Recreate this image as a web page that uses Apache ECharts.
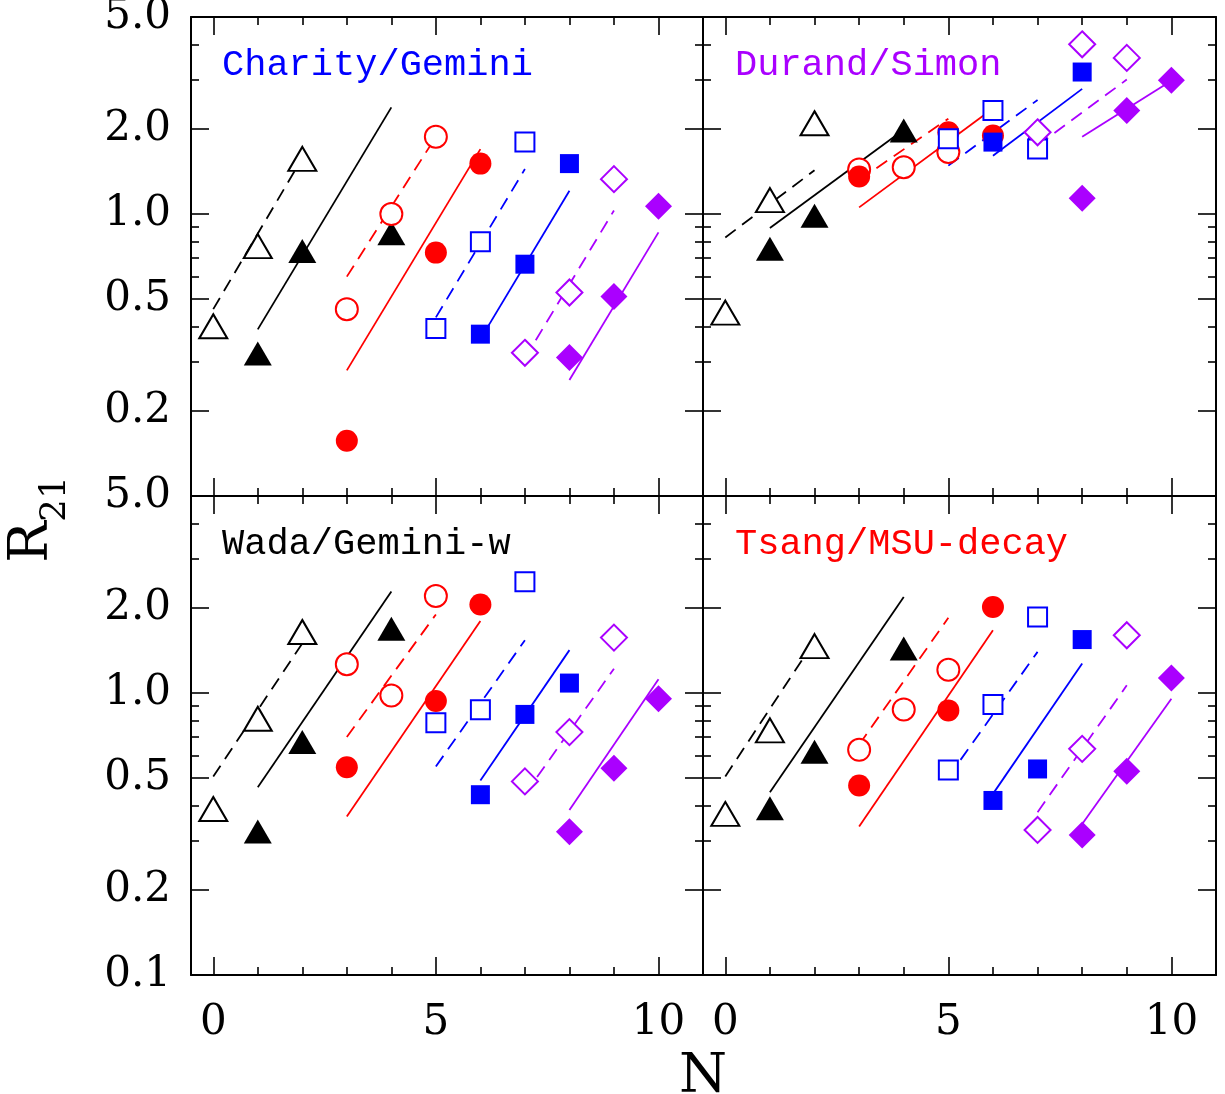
<!DOCTYPE html>
<html><head><meta charset="utf-8">
<script src="https://cdn.jsdelivr.net/npm/echarts@6/dist/echarts.min.js"></script>
<style>html,body{margin:0;padding:0;background:#fff}#c{width:1225px;height:1094px}</style>
</head><body><div id="c"></div>
<script>
// N values of each group (same in all panels)
const nBlackOpen    = [0, 1, 2];
const nBlackFilled  = [1, 2, 4];
const nRedOpen      = [3, 4, 5];
const nRedFilled    = [3, 5, 6];
const nBlueOpen     = [5, 6, 7];
const nBlueFilled   = [6, 7, 8];
const nPurpleOpen   = [7, 8, 9];
const nPurpleFilled = [8, 9, 10];

// R21 values, rows: blackOpen, blackFilled, redOpen, redFilled, blueOpen, blueFilled, purpleOpen, purpleFilled
const charityR21 = [[0.40,0.77,1.57],[0.32,0.74,0.855],[0.46,1.0,1.88],[0.157,0.73,1.51],[0.393,0.797,1.80],[0.375,0.664,1.51],[0.322,0.527,1.33],[0.31,0.51,1.065]];
const durandR21  = [[0.447,1.12,2.10],[0.753,0.986,1.98],[1.44,1.466,1.66],[1.36,1.95,1.90],[1.85,2.33,1.70],[1.80,1.76,3.19],[1.95,4.0,3.58],[1.137,2.33,2.98]];
const wadaR21    = [[0.388,0.811,1.647],[0.323,0.67,1.69],[1.265,0.98,2.21],[0.546,0.937,2.06],[0.785,0.873,2.48],[0.436,0.84,1.085],[0.486,0.727,1.573],[0.3225,0.541,0.955]];
const tsangR21   = [[0.3726,0.737,1.467],[0.39,0.619,1.438],[0.629,0.875,1.21],[0.47,0.868,2.02],[0.534,0.91,1.862],[0.416,0.538,1.548],[0.327,0.634,1.603],[0.314,0.528,1.13]];

// fit lines: R21 at first and last N of each group
const charityFit = [[0.46,1.58],[0.39,2.39],[0.60,1.88],[0.279,1.70],[0.43,1.445],[0.36,1.21],[0.308,1.03],[0.258,0.861]];
const durandFit  = [[0.826,1.43],[0.892,1.99],[1.32,2.18],[1.056,2.37],[1.485,2.54],[1.61,2.78],[1.75,3.0],[1.88,2.97]];
const wadaFit    = [[0.506,1.50],[0.463,2.29],[0.698,1.90],[0.365,1.80],[0.549,1.54],[0.49,1.42],[0.438,1.22],[0.385,1.12]];
const tsangFit   = [[0.506,1.53],[0.445,2.19],[0.656,1.85],[0.336,1.67],[0.504,1.40],[0.439,1.272],[0.378,1.065],[0.343,0.955]];

const panelTitles = ['Charity/Gemini', 'Durand/Simon', 'Wada/Gemini-w', 'Tsang/MSU-decay'];
const xMajorTicks = [0, 5, 10];
const xMinorTicks = [1, 2, 3, 4, 6, 7, 8, 9];
const yMajorTicks = [0.2, 0.5, 1, 2];
const yMinorTicks = [0.3, 0.4, 0.6, 0.7, 0.8, 0.9, 3, 4];
const yLabelsTop = [0.2, 0.5, 1, 2, 5];
const yLabelsBottom = [0.1, 0.2, 0.5, 1, 2, 5];

const BLACK = '#000000', RED = '#ff0000', BLUE = '#0000ff', PURPLE = '#aa00ff';
const nGroups = [nBlackOpen, nBlackFilled, nRedOpen, nRedFilled, nBlueOpen, nBlueFilled, nPurpleOpen, nPurpleFilled];
const groupStyle = [
  {c: BLACK,  sym: 'triangle', size: [28, 24], open: true},
  {c: BLACK,  sym: 'triangle', size: [28, 24], open: false},
  {c: RED,    sym: 'circle',   size: 22, open: true},
  {c: RED,    sym: 'circle',   size: 22, open: false},
  {c: BLUE,   sym: 'rect',     size: 19, open: true},
  {c: BLUE,   sym: 'rect',     size: 19, open: false},
  {c: PURPLE, sym: 'diamond',  size: [26, 26], open: true},
  {c: PURPLE, sym: 'diamond',  size: [27, 27], open: false}
];
const panelR21 = [charityR21, durandR21, wadaR21, tsangR21];
const panelFit = [charityFit, durandFit, wadaFit, tsangFit];
const titleColors = [BLUE, PURPLE, BLACK, RED];

const grids = [
  {left: 191, top: 17, width: 512, height: 479},
  {left: 703, top: 17, width: 513, height: 479},
  {left: 191, top: 496, width: 512, height: 479},
  {left: 703, top: 496, width: 513, height: 479}
];
grids.forEach(g => { g.containLabel = false; g.outerBoundsMode = 'none'; });

const TICKFONT = {fontFamily: 'DejaVu Serif', fontSize: 42, color: '#000'};

function xAx(g, pos, ticks, len, line, labels) {
  return {
    type: 'value', gridIndex: g, position: pos, min: -0.5, max: 11,
    axisLine: {show: line, onZero: false, lineStyle: {color: '#000', width: 2}},
    axisTick: {show: true, inside: true, length: len, customValues: ticks, lineStyle: {color: '#000', width: 1.6}},
    axisLabel: labels ? Object.assign({show: true, customValues: labels, margin: 27, formatter: v => String(Math.round(v))}, TICKFONT) : {show: false},
    splitLine: {show: false}
  };
}
function yAx(g, pos, ticks, len, line, labels) {
  return {
    type: 'log', logBase: 10, gridIndex: g, position: pos, min: 0.1, max: 5,
    axisLine: {show: line, onZero: false, lineStyle: {color: '#000', width: 2}},
    axisTick: {show: true, inside: true, length: len, customValues: ticks, lineStyle: {color: '#000', width: 1.6}},
    axisLabel: labels ? Object.assign({show: true, customValues: labels, margin: 20, formatter: v => Number(v).toFixed(1)}, TICKFONT) : {show: false},
    splitLine: {show: false}
  };
}

const xAxes = [], yAxes = [], series = [];
for (let g = 0; g < 4; g++) {
  const isLeft = g % 2 === 0, isBottom = g >= 2;
  xAxes.push(xAx(g, 'bottom', xMajorTicks, 18, true, isBottom ? xMajorTicks : null));
  xAxes.push(xAx(g, 'bottom', xMinorTicks, 8, false, null));
  xAxes.push(xAx(g, 'top', xMajorTicks, 18, true, null));
  xAxes.push(xAx(g, 'top', xMinorTicks, 8, false, null));
  yAxes.push(yAx(g, 'left', yMajorTicks, 18, true, isLeft ? (isBottom ? yLabelsBottom : yLabelsTop) : null));
  yAxes.push(yAx(g, 'left', yMinorTicks, 8, false, null));
  yAxes.push(yAx(g, 'right', yMajorTicks, 18, true, null));
  yAxes.push(yAx(g, 'right', yMinorTicks, 8, false, null));

  const vals = panelR21[g], fits = panelFit[g];
  for (let k = 0; k < 8; k++) {
    const st = groupStyle[k], ns = nGroups[k];
    series.push({
      type: 'line', xAxisIndex: 4 * g, yAxisIndex: 4 * g, silent: true, z: 2,
      symbol: 'none',
      data: [[ns[0], fits[k][0]], [ns[ns.length - 1], fits[k][1]]],
      lineStyle: {color: st.c, width: 1.8, type: st.open ? [13, 8] : 'solid'}
    });
  }
  const order = [0, 1, 2, 3, 5, 4, 6, 7];
  order.forEach(k => {
    const st = groupStyle[k], ns = nGroups[k];
    series.push({
      type: 'scatter', xAxisIndex: 4 * g, yAxisIndex: 4 * g, z: 3, silent: true,
      symbol: st.sym, symbolSize: st.size,
      data: ns.map((n, i) => [n, vals[k][i]]),
      itemStyle: st.open ? {color: '#ffffff', borderColor: st.c, borderWidth: 2, opacity: 1} : {color: st.c, opacity: 1}
    });
  });
}

const titlePos = [[222, 65], [735, 65], [222, 544], [735, 544]];
const graphic = panelTitles.map((t, i) => ({
  type: 'text', x: titlePos[i][0], y: titlePos[i][1], z: 10,
  style: {text: t, fill: titleColors[i], font: '37px "Liberation Mono"', align: 'left', verticalAlign: 'middle'}
}));
graphic.push({type: 'text', x: 33, y: 542, rotation: Math.PI / 2,
  style: {text: 'R', fill: '#000', font: '55px "DejaVu Serif"', align: 'center', verticalAlign: 'middle'}});
graphic.push({type: 'text', x: 56, y: 499, rotation: Math.PI / 2,
  style: {text: '21', fill: '#000', font: '36px "DejaVu Serif"', align: 'center', verticalAlign: 'middle'}});
graphic.push({type: 'text', x: 703, y: 1078,
  style: {text: 'N', fill: '#000', font: '55px "DejaVu Serif"', align: 'center', verticalAlign: 'middle'}});

const chart = echarts.init(document.getElementById('c'), null, {renderer: 'canvas'});
chart.setOption({
  animation: false,
  backgroundColor: '#ffffff',
  grid: grids,
  xAxis: xAxes,
  yAxis: yAxes,
  series: series,
  graphic: graphic
});
</script>
</body></html>
